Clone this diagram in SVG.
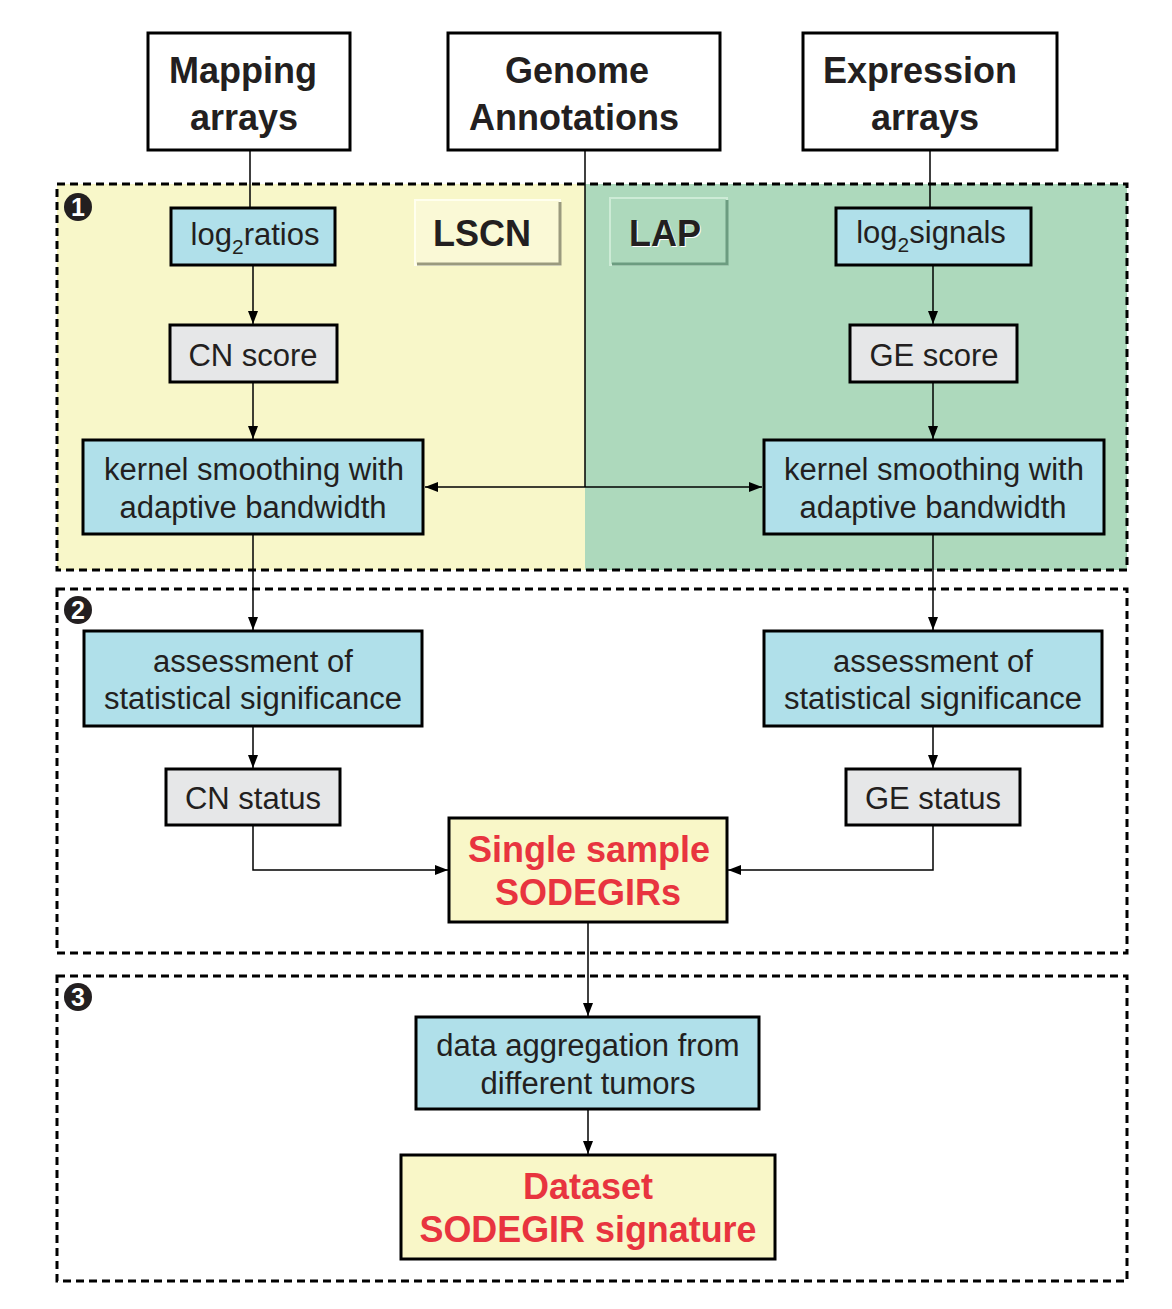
<svg xmlns="http://www.w3.org/2000/svg" width="1172" height="1309" viewBox="0 0 1172 1309">
<defs>
<marker id="ah" markerUnits="userSpaceOnUse" markerWidth="13" markerHeight="12" viewBox="0 0 13 12" refX="13" refY="6" orient="auto-start-reverse">
<path d="M0,1 L13,6 L0,11 Z" fill="#000"/>
</marker>
<style>
.hd{font-family:"Liberation Sans",Arial,sans-serif;font-weight:bold;font-size:36px;fill:#231F20;text-anchor:middle}
.tx{font-family:"Liberation Sans",Arial,sans-serif;font-size:31px;fill:#231F20;text-anchor:middle}
.rd{font-family:"Liberation Sans",Arial,sans-serif;font-weight:bold;font-size:36px;fill:#E8343F;text-anchor:middle}
.num{font-family:"Liberation Sans",Arial,sans-serif;font-weight:bold;font-size:25px;fill:#fff;text-anchor:middle}
.wb{fill:#fff;stroke:#000;stroke-width:3}
.bl{fill:#B0E0EA;stroke:#000;stroke-width:3}
.gr{fill:#E6E7E8;stroke:#000;stroke-width:3}
.yl{fill:#F9F7C8;stroke:#000;stroke-width:3}
.dash{fill:none;stroke:#000;stroke-width:3;stroke-dasharray:8 5}
.cn{fill:none;stroke:#000;stroke-width:1.5}
</style>
</defs>

<g id="backgrounds">
<rect x="57" y="184" width="528" height="386" fill="#F8F7C9"/>
<rect x="585" y="184" width="542" height="386" fill="#ADD9BC"/>
</g>

<g id="sections">
<rect class="dash" x="57" y="184" width="1070" height="386"/>
<rect class="dash" x="57" y="589" width="1070" height="364"/>
<rect class="dash" x="57" y="976" width="1070" height="305"/>
<circle cx="78" cy="207" r="14" fill="#231F20"/>
<text class="num" x="78" y="216">1</text>
<circle cx="78" cy="610" r="14" fill="#231F20"/>
<text class="num" x="78" y="619">2</text>
<circle cx="78" cy="997" r="14" fill="#231F20"/>
<text class="num" x="78" y="1006">3</text>
</g>

<g id="connectors">
<line class="cn" x1="250" y1="150" x2="250" y2="208"/>
<line class="cn" x1="930" y1="150" x2="930" y2="208"/>
<line class="cn" x1="585" y1="150" x2="585" y2="487"/>
<line class="cn" x1="425" y1="487" x2="762" y2="487" marker-start="url(#ah)" marker-end="url(#ah)"/>
<line class="cn" x1="253" y1="265" x2="253" y2="324" marker-end="url(#ah)"/>
<line class="cn" x1="933" y1="265" x2="933" y2="324" marker-end="url(#ah)"/>
<line class="cn" x1="253" y1="382" x2="253" y2="439" marker-end="url(#ah)"/>
<line class="cn" x1="933" y1="382" x2="933" y2="439" marker-end="url(#ah)"/>
<line class="cn" x1="253" y1="534" x2="253" y2="630" marker-end="url(#ah)"/>
<line class="cn" x1="933" y1="534" x2="933" y2="630" marker-end="url(#ah)"/>
<line class="cn" x1="253" y1="726" x2="253" y2="768" marker-end="url(#ah)"/>
<line class="cn" x1="933" y1="726" x2="933" y2="768" marker-end="url(#ah)"/>
<polyline class="cn" points="253,825 253,870 448,870" marker-end="url(#ah)"/>
<polyline class="cn" points="933,825 933,870 728,870" marker-end="url(#ah)"/>
<line class="cn" x1="588" y1="922" x2="588" y2="1016" marker-end="url(#ah)"/>
<line class="cn" x1="588" y1="1109" x2="588" y2="1154" marker-end="url(#ah)"/>
</g>

<g id="mapping-arrays">
<rect class="wb" x="148" y="33" width="202" height="117"/>
<text class="hd" x="243" y="83">Mapping</text>
<text class="hd" x="244" y="130">arrays</text>
</g>
<g id="genome-annotations">
<rect class="wb" x="448" y="33" width="272" height="117"/>
<text class="hd" x="577" y="83">Genome</text>
<text class="hd" x="574" y="130">Annotations</text>
</g>
<g id="expression-arrays">
<rect class="wb" x="803" y="33" width="254" height="117"/>
<text class="hd" x="920" y="83">Expression</text>
<text class="hd" x="925" y="130">arrays</text>
</g>

<g id="lscn-label">
<rect x="415" y="200" width="145" height="65" fill="#FAF9D6" stroke="#FFFFEE" stroke-width="2"/>
<polyline points="417,264 560,264 560,202" fill="none" stroke="#9A9A7E" stroke-width="3"/>
<text class="hd" x="482" y="246">LSCN</text>
</g>
<g id="lap-label">
<rect x="610" y="198" width="117" height="67" fill="#ADD9BC" stroke="#CDEBD6" stroke-width="2"/>
<polyline points="612,264 727,264 727,200" fill="none" stroke="#6C9C80" stroke-width="3"/>
<text class="hd" x="666" y="247" style="fill:#fff">LAP</text>
<text class="hd" x="665" y="246">LAP</text>
</g>

<g id="log2ratios">
<rect class="bl" x="171" y="208" width="164" height="57"/>
<text class="tx" x="255" y="245">log<tspan font-size="21" dy="9">2</tspan><tspan dy="-9">ratios</tspan></text>
</g>
<g id="log2signals">
<rect class="bl" x="836" y="208" width="195" height="57"/>
<text class="tx" x="931" y="243">log<tspan font-size="21" dy="9">2</tspan><tspan dy="-9">signals</tspan></text>
</g>
<g id="cn-score">
<rect class="gr" x="170" y="325" width="167" height="57"/>
<text class="tx" x="253" y="366">CN score</text>
</g>
<g id="ge-score">
<rect class="gr" x="850" y="325" width="167" height="57"/>
<text class="tx" x="934" y="366">GE score</text>
</g>
<g id="kernel-left">
<rect class="bl" x="83" y="440" width="340" height="94"/>
<text class="tx" x="254" y="480">kernel smoothing with</text>
<text class="tx" x="253" y="518">adaptive bandwidth</text>
</g>
<g id="kernel-right">
<rect class="bl" x="764" y="440" width="340" height="94"/>
<text class="tx" x="934" y="480">kernel smoothing with</text>
<text class="tx" x="933" y="518">adaptive bandwidth</text>
</g>
<g id="assessment-left">
<rect class="bl" x="84" y="631" width="338" height="95"/>
<text class="tx" x="253" y="672">assessment of</text>
<text class="tx" x="253" y="709">statistical significance</text>
</g>
<g id="assessment-right">
<rect class="bl" x="764" y="631" width="338" height="95"/>
<text class="tx" x="933" y="672">assessment of</text>
<text class="tx" x="933" y="709">statistical significance</text>
</g>
<g id="cn-status">
<rect class="gr" x="166" y="769" width="174" height="56"/>
<text class="tx" x="253" y="809">CN status</text>
</g>
<g id="ge-status">
<rect class="gr" x="846" y="769" width="174" height="56"/>
<text class="tx" x="933" y="809">GE status</text>
</g>
<g id="single-sample">
<rect class="yl" x="449" y="818" width="278" height="104"/>
<text class="rd" x="589" y="862">Single sample</text>
<text class="rd" x="588" y="905">SODEGIRs</text>
</g>
<g id="data-aggregation">
<rect class="bl" x="416" y="1017" width="343" height="92"/>
<text class="tx" x="588" y="1056">data aggregation from</text>
<text class="tx" x="588" y="1094">different tumors</text>
</g>
<g id="dataset-signature">
<rect class="yl" x="401" y="1155" width="374" height="104"/>
<text class="rd" x="588" y="1199">Dataset</text>
<text class="rd" x="588" y="1242" textLength="337" lengthAdjust="spacingAndGlyphs">SODEGIR signature</text>
</g>
</svg>
